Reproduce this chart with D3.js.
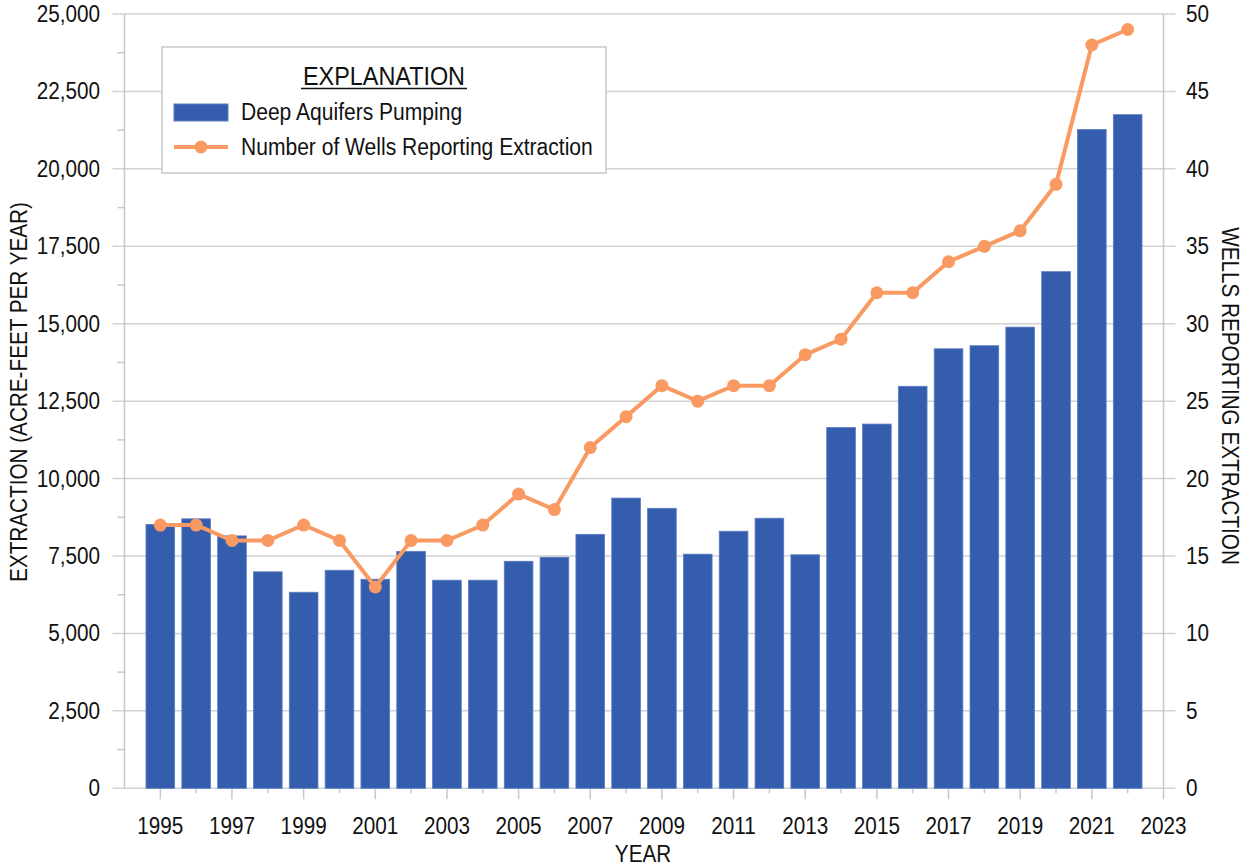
<!DOCTYPE html>
<html>
<head>
<meta charset="utf-8">
<script src="https://cdn.jsdelivr.net/npm/d3@7"></script>
<style>
body { margin: 0; background: #fff; }
text { font-family: "Liberation Sans", Arial, sans-serif; fill: #111; }
</style>
</head>
<body>
<div id="chart"></div>
<script>
var svgWidth = 1244
var svgHeight = 866

var years = [1995,1996,1997,1998,1999,2000,2001,2002,2003,2004,2005,2006,2007,2008,
             2009,2010,2011,2012,2013,2014,2015,2016,2017,2018,2019,2020,2021,2022]
var pumping = [8520,8700,8150,6990,6330,7040,6750,7650,6720,6720,7330,7460,8200,9370,
               9040,7560,8300,8720,7540,11650,11760,12980,14190,14290,14890,16680,21270,21750]
var wells = [17,17,16,16,17,16,13,16,16,17,19,18,22,24,26,25,26,26,28,29,32,32,34,35,36,39,48,49]
var leftTicks = [0,2500,5000,7500,10000,12500,15000,17500,20000,22500,25000]
var rightTicks = [0,5,10,15,20,25,30,35,40,45,50]
var yearTicks = [1995,1997,1999,2001,2003,2005,2007,2009,2011,2013,2015,2017,2019,2021,2023]

var plotL = 124.5, plotR = 1163.5, plotT = 14, plotB = 788.3
var sx = 0.9 // text is a bit condensed in the original

var svg = d3.select("#chart").append("svg").attr("width",svgWidth).attr("height",svgHeight)

var x = d3.scaleLinear().domain([1994,2023]).range([plotL,plotR])
var y = d3.scaleLinear().domain([0,25000]).range([plotB,plotT])
var y2 = d3.scaleLinear().domain([0,50]).range([plotB,plotT])
var step = x(1996) - x(1995)
var barW = step * 0.8

// gridlines
svg.append("g").selectAll("line")
   .data(leftTicks)
   .enter()
   .append("line")
   .attr("x1",plotL-12).attr("x2",plotR+12)
   .attr("y1",function(d){ return y(d) }).attr("y2",function(d){ return y(d) })
   .style("stroke","#d2d2d2").style("stroke-width",1.5)

// minor left ticks
svg.append("g").selectAll("line")
   .data(d3.range(1250,25000,2500))
   .enter()
   .append("line")
   .attr("x1",plotL-7).attr("x2",plotL)
   .attr("y1",function(d){ return y(d) }).attr("y2",function(d){ return y(d) })
   .style("stroke","#c8c8c8").style("stroke-width",1.5)

// vertical axis lines
svg.append("line").attr("x1",plotL).attr("x2",plotL).attr("y1",plotT).attr("y2",plotB)
   .style("stroke","#c8c8c8").style("stroke-width",1.5)
svg.append("line").attr("x1",plotR).attr("x2",plotR).attr("y1",plotT).attr("y2",plotB)
   .style("stroke","#c8c8c8").style("stroke-width",1.5)

// x ticks
svg.append("g").selectAll("line")
   .data(d3.range(1995,2024))
   .enter()
   .append("line")
   .attr("x1",function(d){ return x(d) }).attr("x2",function(d){ return x(d) })
   .attr("y1",plotB)
   .attr("y2",function(d){ return yearTicks.indexOf(d) >= 0 ? plotB+11 : plotB+5 })
   .style("stroke","#c8c8c8").style("stroke-width",1.5)

// bars
svg.append("g").selectAll("rect")
   .data(years)
   .enter()
   .append("rect")
   .attr("x",function(d){ return x(d) - barW/2 })
   .attr("width",barW)
   .attr("y",function(d,i){ return y(pumping[i]) })
   .attr("height",function(d,i){ return plotB - y(pumping[i]) })
   .style("fill","#345ead")
   .style("stroke","#5c7cc0")
   .style("stroke-width",0.8)

// wells line
var line = d3.line()
             .x(function(d){ return x(d) })
             .y(function(d,i){ return y2(wells[i]) })
svg.append("path")
   .attr("d",line(years))
   .style("fill","none")
   .style("stroke","#f89a62")
   .style("stroke-width",4)
svg.append("g").selectAll("circle")
   .data(years)
   .enter()
   .append("circle")
   .attr("cx",function(d){ return x(d) })
   .attr("cy",function(d,i){ return y2(wells[i]) })
   .attr("r",6.5)
   .style("fill","#f89a62")

// tick labels
svg.append("g").selectAll("text")
   .data(leftTicks)
   .enter()
   .append("text")
   .attr("transform",function(d){ return "translate(100," + (y(d) + 8) + ") scale(" + sx + ",1)" })
   .attr("text-anchor","end")
   .style("font-size","23px")
   .text(function(d){ return d3.format(",")(d) })
svg.append("g").selectAll("text")
   .data(rightTicks)
   .enter()
   .append("text")
   .attr("transform",function(d){ return "translate(1186," + (y2(d) + 8) + ") scale(" + sx + ",1)" })
   .style("font-size","23px")
   .text(function(d){ return d })
svg.append("g").selectAll("text")
   .data(yearTicks)
   .enter()
   .append("text")
   .attr("transform",function(d){ return "translate(" + x(d) + ",834) scale(" + sx + ",1)" })
   .attr("text-anchor","middle")
   .style("font-size","23px")
   .text(function(d){ return d })

// axis titles
svg.append("text")
   .attr("transform","translate(27,392) rotate(-90) scale(" + sx + ",1)")
   .attr("text-anchor","middle")
   .style("font-size","23px")
   .text("EXTRACTION (ACRE-FEET PER YEAR)")
svg.append("text")
   .attr("transform","translate(1222,396) rotate(90) scale(" + sx + ",1)")
   .attr("text-anchor","middle")
   .style("font-size","23px")
   .text("WELLS REPORTING EXTRACTION")
svg.append("text")
   .attr("transform","translate(643,862) scale(" + sx + ",1)")
   .attr("text-anchor","middle")
   .style("font-size","23px")
   .text("YEAR")

// legend
var lg = svg.append("g")
lg.append("rect")
  .attr("x",162).attr("y",47).attr("width",444).attr("height",126)
  .style("fill","#fff").style("stroke","#c8c8c8").style("stroke-width",1.5)
lg.append("text")
  .attr("transform","translate(384,85) scale(" + sx + ",1)")
  .attr("text-anchor","middle")
  .style("font-size","26px")
  .text("EXPLANATION")
lg.append("line")
  .attr("x1",301).attr("x2",467).attr("y1",88.5).attr("y2",88.5)
  .style("stroke","#111").style("stroke-width",1.5)
lg.append("rect")
  .attr("x",174).attr("y",104).attr("width",54).attr("height",17)
  .style("fill","#345ead").style("stroke","#5c7cc0")
lg.append("line")
  .attr("x1",174).attr("x2",228).attr("y1",147).attr("y2",147)
  .style("stroke","#f89a62").style("stroke-width",4)
lg.append("circle")
  .attr("cx",201).attr("cy",147).attr("r",6.5)
  .style("fill","#f89a62")
lg.append("text")
  .attr("transform","translate(241,120) scale(" + sx + ",1)")
  .style("font-size","23.4px")
  .text("Deep Aquifers Pumping")
lg.append("text")
  .attr("transform","translate(241,155) scale(" + sx + ",1)")
  .style("font-size","23.4px")
  .text("Number of Wells Reporting Extraction")
</script>
</body>
</html>
